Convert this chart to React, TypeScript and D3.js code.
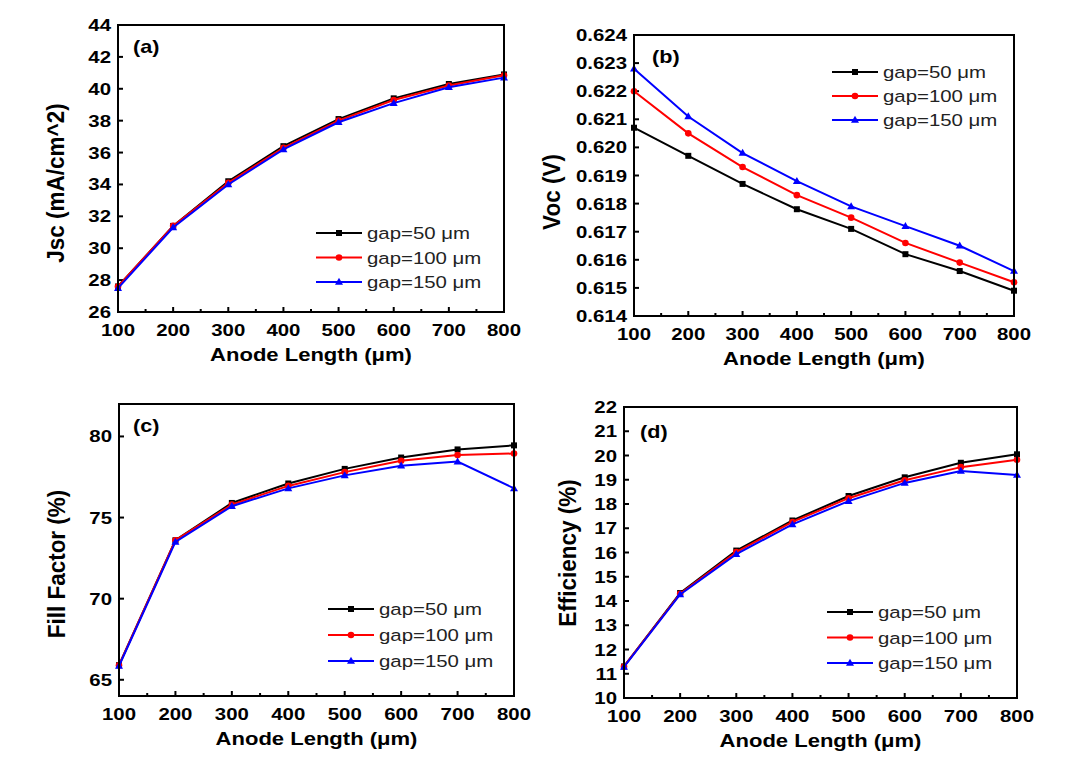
import React from "react";
import * as d3 from "d3";

const anodeLength = [100, 200, 300, 400, 500, 600, 700, 800];
const xTicks = [100, 200, 300, 400, 500, 600, 700, 800];
const xMinorTicks = [150, 250, 350, 450, 550, 650, 750];
const seriesNames = ["gap=50 μm", "gap=100 μm", "gap=150 μm"];
const seriesColors = ["#000000", "#ff0000", "#0000ff"];
const seriesMarkers = ["square", "circle", "triangle"];

const jsc50 = [27.6, 31.4, 34.2, 36.4, 38.1, 39.4, 40.3, 40.9];
const jsc100 = [27.6, 31.4, 34.1, 36.3, 38.0, 39.3, 40.2, 40.85];
const jsc150 = [27.5, 31.3, 34.0, 36.2, 37.9, 39.1, 40.1, 40.7];
const jscTicks = [26, 28, 30, 32, 34, 36, 38, 40, 42, 44];

const voc50 = [0.6207, 0.6197, 0.6187, 0.6178, 0.6171, 0.6162, 0.6156, 0.6149];
const voc100 = [0.622, 0.6205, 0.6193, 0.6183, 0.6175, 0.6166, 0.6159, 0.6152];
const voc150 = [0.6228, 0.6211, 0.6198, 0.6188, 0.6179, 0.6172, 0.6165, 0.6156];
const vocTicks = [0.614, 0.615, 0.616, 0.617, 0.618, 0.619, 0.62, 0.621, 0.622, 0.623, 0.624];

const ff50 = [65.9, 73.6, 75.9, 77.1, 78.0, 78.7, 79.2, 79.45];
const ff100 = [65.9, 73.6, 75.8, 76.95, 77.8, 78.5, 78.85, 78.95];
const ff150 = [65.85, 73.5, 75.7, 76.8, 77.6, 78.2, 78.45, 76.8];
const ffTicks = [65, 70, 75, 80];

const eff50 = [11.3, 14.33, 16.08, 17.32, 18.33, 19.1, 19.7, 20.05];
const eff100 = [11.3, 14.3, 16.02, 17.26, 18.24, 18.98, 19.52, 19.82];
const eff150 = [11.28, 14.27, 15.93, 17.16, 18.12, 18.87, 19.36, 19.2];
const effTicks = [10, 11, 12, 13, 14, 15, 16, 17, 18, 19, 20, 21, 22];

const FONT = "'Liberation Sans', Arial, Helvetica, sans-serif";
const SX = 1.2;

type PanelCfg = {
  label: string;
  box: { l: number; t: number; r: number; b: number };
  yDomain: [number, number];
  yTicks: number[];
  yFmt: (v: number) => string;
  series: number[][];
  yTitle: string;
  yTitlePos: { x: number; y: number };
  labelPos: { x: number; y: number };
  legend: { x: number; y: number; dy: number };
};

const panels: PanelCfg[] = [
  {
    label: "(a)",
    box: { l: 118, t: 25, r: 504, b: 312 },
    yDomain: [26, 44],
    yTicks: jscTicks,
    yFmt: (v) => String(v),
    series: [jsc50, jsc100, jsc150],
    yTitle: "Jsc (mA/cm^2)",
    yTitlePos: { x: 56, y: 183 },
    labelPos: { x: 133, y: 53 },
    legend: { x: 316, y: 233, dy: 24.5 },
  },
  {
    label: "(b)",
    box: { l: 634, t: 35, r: 1014, b: 316 },
    yDomain: [0.614, 0.624],
    yTicks: vocTicks,
    yFmt: d3.format(".3f"),
    series: [voc50, voc100, voc150],
    yTitle: "Voc (V)",
    yTitlePos: { x: 552, y: 192 },
    labelPos: { x: 652, y: 63 },
    legend: { x: 832, y: 72, dy: 24 },
  },
  {
    label: "(c)",
    box: { l: 119, t: 404, r: 514, b: 696 },
    yDomain: [64, 82],
    yTicks: ffTicks,
    yFmt: (v) => String(v),
    series: [ff50, ff100, ff150],
    yTitle: "Fill Factor (%)",
    yTitlePos: { x: 57, y: 564 },
    labelPos: { x: 133, y: 432 },
    legend: { x: 328, y: 609, dy: 26 },
  },
  {
    label: "(d)",
    box: { l: 624, t: 407, r: 1017, b: 698 },
    yDomain: [10, 22],
    yTicks: effTicks,
    yFmt: (v) => String(v),
    series: [eff50, eff100, eff150],
    yTitle: "Efficiency (%)",
    yTitlePos: { x: 568, y: 553 },
    labelPos: { x: 640, y: 438 },
    legend: { x: 827, y: 612, dy: 25.5 },
  },
];

function Marker({ kind, x, y, color }: { kind: string; x: number; y: number; color: string }) {
  if (kind === "square") return <rect x={x - 3} y={y - 3} width={6} height={6} fill={color} />;
  if (kind === "circle") return <circle cx={x} cy={y} r={3.3} fill={color} />;
  return (
    <path
      d={`M${x},${y - 4.2} L${x + 4},${y + 2.8} L${x - 4},${y + 2.8} Z`}
      fill={color}
    />
  );
}

function Panel({ cfg }: { cfg: PanelCfg }) {
  const { box } = cfg;
  const x = d3.scaleLinear().domain([100, 800]).range([box.l, box.r]);
  const y = d3.scaleLinear().domain(cfg.yDomain).range([box.b, box.t]);
  const line = d3
    .line<number>()
    .x((_, i) => x(anodeLength[i]))
    .y((d) => y(d));
  return (
    <g fontFamily={FONT}>
      {/* ticks */}
      {xTicks.map((t) => (
        <line key={"xt" + t} x1={x(t)} x2={x(t)} y1={box.b} y2={box.b - 5} stroke="#000" strokeWidth={2} />
      ))}
      {xMinorTicks.map((t) => (
        <line key={"xm" + t} x1={x(t)} x2={x(t)} y1={box.b} y2={box.b - 3} stroke="#000" strokeWidth={2} />
      ))}
      {cfg.yTicks.map((t) => (
        <line key={"yt" + t} x1={box.l} x2={box.l + 5} y1={y(t)} y2={y(t)} stroke="#000" strokeWidth={2} />
      ))}
      {/* tick labels */}
      {xTicks.map((t) => (
        <text
          key={"xl" + t}
          transform={`translate(${x(t)},${box.b + 24}) scale(${SX},1)`}
          textAnchor="middle"
          fontSize={17}
          fontWeight="bold"
          fill="#000"
        >
          {t}
        </text>
      ))}
      {cfg.yTicks.map((t) => (
        <text
          key={"yl" + t}
          transform={`translate(${box.l - 7},${y(t) + 6}) scale(${SX},1)`}
          textAnchor="end"
          fontSize={17}
          fontWeight="bold"
          fill="#000"
        >
          {cfg.yFmt(t)}
        </text>
      ))}
      {/* axis titles */}
      <text
        transform={`translate(${(box.l + box.r) / 2},${box.b + 49}) scale(1.16,1)`}
        textAnchor="middle"
        fontSize={19}
        fontWeight="bold"
        fill="#000"
      >
        Anode Length (μm)
      </text>
      <text
        transform={`translate(${cfg.yTitlePos.x + 8},${cfg.yTitlePos.y}) rotate(-90) scale(1,1.1)`}
        textAnchor="middle"
        fontSize={22.5}
        fontWeight="bold"
        fill="#000"
      >
        {cfg.yTitle}
      </text>
      {/* series */}
      {cfg.series.map((s, si) => (
        <g key={"s" + si}>
          <path d={line(s) || ""} fill="none" stroke={seriesColors[si]} strokeWidth={2} />
          {s.map((v, i) => (
            <Marker key={i} kind={seriesMarkers[si]} x={x(anodeLength[i])} y={y(v)} color={seriesColors[si]} />
          ))}
        </g>
      ))}
      {/* frame */}
      <rect
        x={box.l}
        y={box.t}
        width={box.r - box.l}
        height={box.b - box.t}
        fill="none"
        stroke="#000"
        strokeWidth={2}
      />
      {/* panel label */}
      <text
        transform={`translate(${cfg.labelPos.x},${cfg.labelPos.y}) scale(${SX},1)`}
        fontSize={18}
        fontWeight="bold"
        fill="#000"
      >
        {cfg.label}
      </text>
      {/* legend */}
      {seriesNames.map((name, si) => {
        const ly = cfg.legend.y + si * cfg.legend.dy;
        const lx = cfg.legend.x;
        return (
          <g key={"lg" + si}>
            <line x1={lx} x2={lx + 46} y1={ly} y2={ly} stroke={seriesColors[si]} strokeWidth={2} />
            <Marker kind={seriesMarkers[si]} x={lx + 23} y={ly} color={seriesColors[si]} />
            <text
              transform={`translate(${lx + 51},${ly + 6}) scale(${SX},1)`}
              fontSize={17}
              fill="#222"
            >
              {name}
            </text>
          </g>
        );
      })}
    </g>
  );
}

export default function App() {
  return (
    <svg
      width={1080}
      height={770}
      style={{ position: "absolute", left: 0, top: 0, background: "#fff" }}
    >
      <rect x={0} y={0} width={1080} height={770} fill="#fff" />
      {panels.map((p) => (
        <Panel key={p.label} cfg={p} />
      ))}
    </svg>
  );
}
